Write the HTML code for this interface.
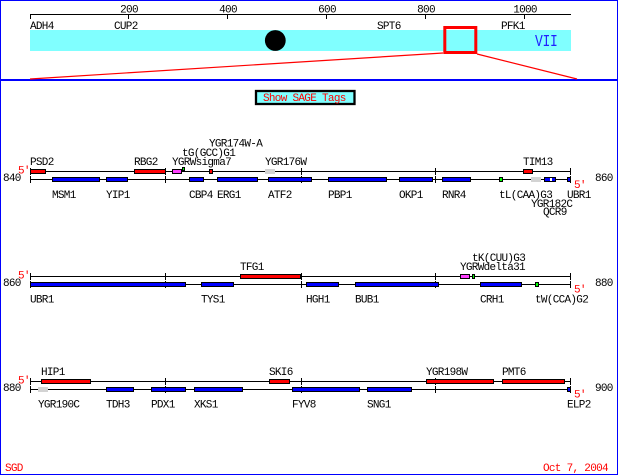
<!DOCTYPE html>
<html><head><meta charset="utf-8"><style>
html,body{margin:0;padding:0;background:#fff;}
svg{display:block;}
text{font-family:"Liberation Mono",monospace;font-size:11px;letter-spacing:-0.7px;fill:#000;}
.r{fill:#ff0000;}
</style></head><body>
<svg width="620" height="475" viewBox="0 0 620 475" xmlns="http://www.w3.org/2000/svg">
<rect x="0" y="0" width="620" height="475" fill="#fff"/>
<!-- frame -->
<g fill="#0000ff" shape-rendering="crispEdges">
<rect x="0" y="0" width="618" height="1"/>
<rect x="0" y="0" width="1" height="475"/>
<rect x="617" y="0" width="1" height="475"/>
<rect x="0" y="474" width="618" height="1"/>
<rect x="0" y="79" width="618" height="2"/>
</g>
<!-- ruler -->
<g fill="#000" shape-rendering="crispEdges">
<rect x="30" y="14" width="541" height="1"/>
<rect x="30" y="14" width="1" height="5"/>
<rect x="128" y="14" width="1" height="5"/>
<rect x="227" y="14" width="1" height="5"/>
<rect x="326" y="14" width="1" height="5"/>
<rect x="425" y="14" width="1" height="5"/>
<rect x="524" y="14" width="1" height="5"/>
</g>
<g text-anchor="middle">
<text x="129" y="12.5">200</text>
<text x="228" y="12.5">400</text>
<text x="327" y="12.5">600</text>
<text x="426" y="12.5">800</text>
<text x="525" y="12.5">1000</text>
</g>
<text x="30" y="29">ADH4</text>
<text x="114" y="29">CUP2</text>
<text x="377" y="29">SPT6</text>
<text x="501" y="29">PFK1</text>
<rect x="30" y="30" width="541" height="21" fill="#80ffff" shape-rendering="crispEdges"/>
<circle cx="275.3" cy="40.5" r="10.4" fill="#000"/>
<text transform="translate(535,46) scale(1,1.3)" style="font-size:13px;letter-spacing:-0.3px;fill:#2020ff;">VII</text>
<rect x="444.8" y="27.5" width="31" height="25" fill="none" stroke="#ff0000" stroke-width="3"/>
<line x1="443" y1="53" x2="30" y2="79" stroke="#ff0000" stroke-width="1.2"/>
<line x1="477" y1="54" x2="577" y2="79" stroke="#ff0000" stroke-width="1.2"/>
<!-- button -->
<rect x="256" y="91" width="98.5" height="13" fill="#80ffff" stroke="#000" stroke-width="2.3"/>
<text x="263" y="101" class="r" style="fill:#ff0000;">Show SAGE Tags</text>

<!-- ============ TRACK 1 T=171 B=179 ============ -->
<g shape-rendering="crispEdges">
<rect x="30" y="171" width="541" height="1" fill="#000"/>
<rect x="30" y="179" width="541" height="1" fill="#000"/>
<g fill="#000">
<rect x="30" y="168" width="1" height="7"/><rect x="165" y="168" width="1" height="7"/><rect x="301" y="168" width="1" height="7"/><rect x="435" y="168" width="1" height="7"/><rect x="570" y="168" width="1" height="7"/>
<rect x="30" y="176" width="1" height="7"/><rect x="165" y="176" width="1" height="7"/><rect x="301" y="176" width="1" height="7"/><rect x="435" y="176" width="1" height="7"/><rect x="570" y="176" width="1" height="7"/>
</g>
<g stroke="#000" stroke-width="1">
<rect x="30.5" y="169.5" width="15" height="4" fill="#ff0000"/>
<rect x="134.5" y="169.5" width="31" height="4" fill="#ff0000"/>
<rect x="172.5" y="169.5" width="9" height="4" fill="#ff40ff"/>
<rect x="182.5" y="167.5" width="2" height="3" fill="#00ff00"/>
<rect x="209.5" y="169.5" width="3" height="4" fill="#ff0000"/>
<rect x="523.5" y="169.5" width="9" height="4" fill="#ff0000"/>
</g>
<rect x="265" y="169" width="10" height="5" fill="#d3d3d3"/>
<g stroke="#000" stroke-width="1" fill="#0000ff">
<rect x="52.5" y="177.5" width="47" height="4"/>
<rect x="106.5" y="177.5" width="21" height="4"/>
<rect x="189.5" y="177.5" width="14" height="4"/>
<rect x="217.5" y="177.5" width="40" height="4"/>
<rect x="268.5" y="177.5" width="43" height="4"/>
<rect x="328.5" y="177.5" width="58" height="4"/>
<rect x="399.5" y="177.5" width="33" height="4"/>
<rect x="442.5" y="177.5" width="28" height="4"/>
<rect x="499.5" y="177.5" width="3" height="4" fill="#00ff00"/>
<rect x="544.5" y="177.5" width="11" height="4"/>
<rect x="567.5" y="177.5" width="3" height="4"/>
</g>
<rect x="550" y="178" width="2" height="3" fill="#fff"/>
<rect x="531" y="177" width="10" height="5" fill="#d3d3d3"/>
</g>
<text x="30" y="165">PSD2</text>
<text x="134" y="165">RBG2</text>
<text x="172" y="165">YGRWsigma7</text>
<text x="182" y="156">tG(GCC)G1</text>
<text x="209" y="146.5">YGR174W-A</text>
<text x="265" y="165">YGR176W</text>
<text x="523" y="165">TIM13</text>
<text x="52" y="198">MSM1</text>
<text x="106" y="198">YIP1</text>
<text x="189" y="198">CBP4</text>
<text x="217" y="198">ERG1</text>
<text x="268" y="198">ATF2</text>
<text x="328" y="198">PBP1</text>
<text x="399" y="198">OKP1</text>
<text x="442" y="198">RNR4</text>
<text x="499" y="198">tL(CAA)G3</text>
<text x="567" y="198">UBR1</text>
<text x="531" y="207">YGR182C</text>
<text x="543" y="215">QCR9</text>
<text x="3" y="181">840</text>
<text x="595" y="181">860</text>
<text x="18" y="173.5" style="fill:#ff0000;">5'</text>
<text x="574" y="188" style="fill:#ff0000;">5'</text>

<!-- ============ TRACK 2 T=276 B=284 ============ -->
<g shape-rendering="crispEdges">
<rect x="30" y="276" width="541" height="1" fill="#000"/>
<rect x="30" y="284" width="541" height="1" fill="#000"/>
<g fill="#000">
<rect x="30" y="273" width="1" height="7"/><rect x="165" y="273" width="1" height="7"/><rect x="301" y="273" width="1" height="7"/><rect x="435" y="273" width="1" height="7"/><rect x="570" y="273" width="1" height="7"/>
<rect x="30" y="281" width="1" height="7"/><rect x="165" y="281" width="1" height="7"/><rect x="301" y="281" width="1" height="7"/><rect x="435" y="281" width="1" height="7"/><rect x="570" y="281" width="1" height="7"/>
</g>
<g stroke="#000" stroke-width="1">
<rect x="240.5" y="274.5" width="60" height="4" fill="#ff0000"/>
<rect x="460.5" y="274.5" width="9" height="4" fill="#ff40ff"/>
<rect x="472.5" y="274.5" width="2" height="4" fill="#00ff00"/>
</g>
<g stroke="#000" stroke-width="1" fill="#0000ff">
<rect x="30.5" y="282.5" width="155" height="4"/>
<rect x="201.5" y="282.5" width="32" height="4"/>
<rect x="306.5" y="282.5" width="32" height="4"/>
<rect x="355.5" y="282.5" width="83" height="4"/>
<rect x="480.5" y="282.5" width="41" height="4"/>
<rect x="535.5" y="282.5" width="3" height="4" fill="#00ff00"/>
</g>
</g>
<text x="240" y="270">TFG1</text>
<text x="460" y="270">YGRWdelta31</text>
<text x="472" y="261">tK(CUU)G3</text>
<text x="30" y="302.5">UBR1</text>
<text x="201" y="302.5">TYS1</text>
<text x="306" y="302.5">HGH1</text>
<text x="355" y="302.5">BUB1</text>
<text x="480" y="302.5">CRH1</text>
<text x="535" y="302.5">tW(CCA)G2</text>
<text x="3" y="286">860</text>
<text x="595" y="286">880</text>
<text x="18" y="278.5" style="fill:#ff0000;">5'</text>
<text x="574" y="292.5" style="fill:#ff0000;">5'</text>

<!-- ============ TRACK 3 T=381 B=389 ============ -->
<g shape-rendering="crispEdges">
<rect x="30" y="381" width="541" height="1" fill="#000"/>
<rect x="30" y="389" width="541" height="1" fill="#000"/>
<g fill="#000">
<rect x="30" y="378" width="1" height="7"/><rect x="165" y="378" width="1" height="7"/><rect x="301" y="378" width="1" height="7"/><rect x="435" y="378" width="1" height="7"/><rect x="570" y="378" width="1" height="7"/>
<rect x="30" y="386" width="1" height="7"/><rect x="165" y="386" width="1" height="7"/><rect x="301" y="386" width="1" height="7"/><rect x="435" y="386" width="1" height="7"/><rect x="570" y="386" width="1" height="7"/>
</g>
<g stroke="#000" stroke-width="1" fill="#ff0000">
<rect x="41.5" y="379.5" width="49" height="4"/>
<rect x="269.5" y="379.5" width="20" height="4"/>
<rect x="426.5" y="379.5" width="67" height="4"/>
<rect x="502.5" y="379.5" width="62" height="4"/>
</g>
<rect x="38" y="387" width="10" height="5" fill="#d3d3d3"/>
<g stroke="#000" stroke-width="1" fill="#0000ff">
<rect x="106.5" y="387.5" width="27" height="4"/>
<rect x="151.5" y="387.5" width="34" height="4"/>
<rect x="194.5" y="387.5" width="48" height="4"/>
<rect x="292.5" y="387.5" width="67" height="4"/>
<rect x="367.5" y="387.5" width="44" height="4"/>
<rect x="567.5" y="387.5" width="3" height="4"/>
</g>
</g>
<text x="41" y="375">HIP1</text>
<text x="269" y="375">SKI6</text>
<text x="426" y="375">YGR198W</text>
<text x="502" y="375">PMT6</text>
<text x="38" y="407.5">YGR190C</text>
<text x="106" y="407.5">TDH3</text>
<text x="151" y="407.5">PDX1</text>
<text x="194" y="407.5">XKS1</text>
<text x="292" y="407.5">FYV8</text>
<text x="367" y="407.5">SNG1</text>
<text x="567" y="407.5">ELP2</text>
<text x="3" y="391">880</text>
<text x="595" y="391">900</text>
<text x="18" y="383.5" style="fill:#ff0000;">5'</text>
<text x="574" y="397.5" style="fill:#ff0000;">5'</text>

<!-- footer -->
<text x="5" y="471" style="fill:#ff0000;">SGD</text>
<text x="543" y="471" style="fill:#ff0000;">Oct 7, 2004</text>
</svg>
</body></html>
